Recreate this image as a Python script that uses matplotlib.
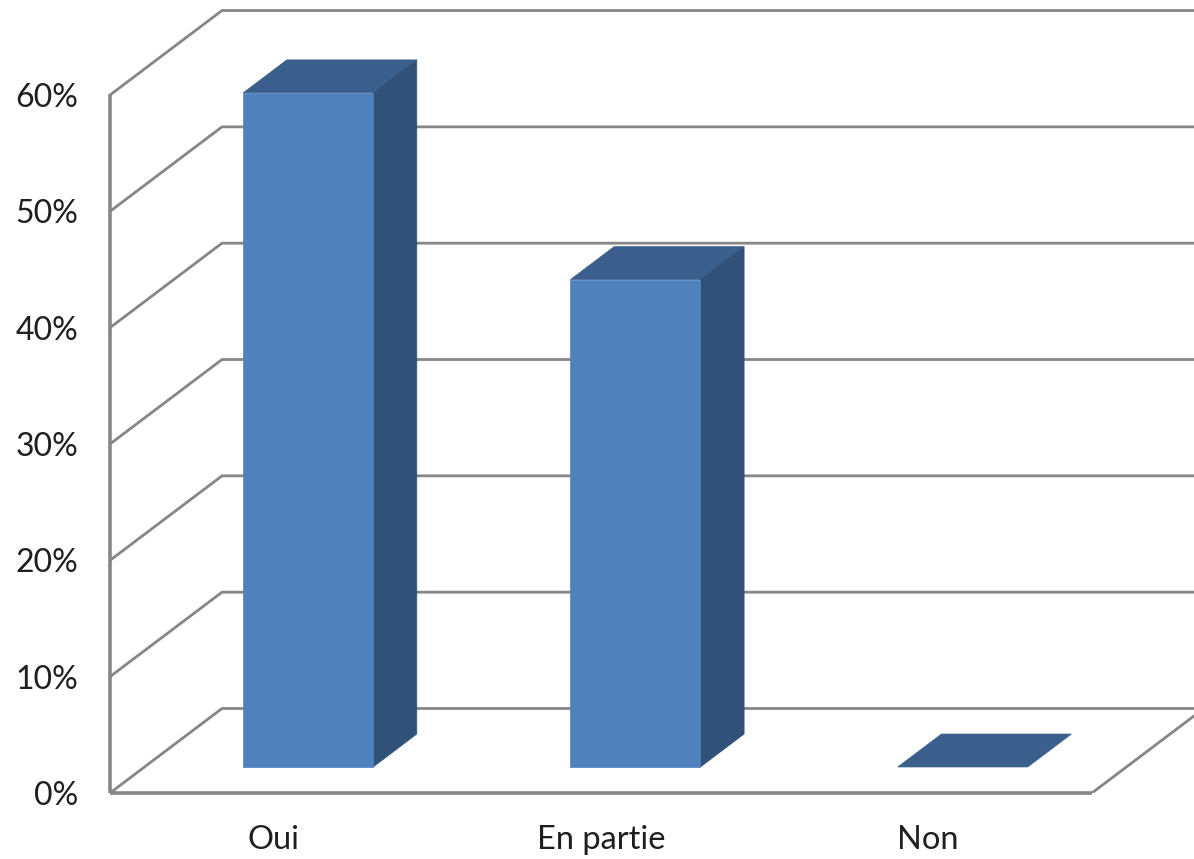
import numpy as np
import matplotlib
matplotlib.use("Agg")
import matplotlib.pyplot as plt

categories = ["Oui", "En partie", "Non"]
values = [57.95, 41.9, 0]
percent_ticks = [0, 10, 20, 30, 40, 50, 60]

# fake 3d: depth is a shear of the axes coordinates
depth_x = 112 / 327.3
depth_y = 84.5 / 11.633
bar_width = 0.397
bar_d0 = 0.308
bar_d1 = 0.698

grid_col = "#868686"
front_col = "#4F81BD"
top_col = "#3B5F8C"
side_col = "#315179"
text_col = "#1f1f1f"


def proj(u, v, d):
    return u + d * depth_x, v + d * depth_y


plt.rcParams["font.family"] = ["Lato", "DejaVu Sans"]
W, H = 1194, 859
fig = plt.figure(figsize=(W / 100, H / 100), dpi=100)
ax = fig.add_axes([110 / W, (H - 793) / H, (W - 110) / W, 793 / H])
ax.set_xlim(0, (W - 110) / 327.3)
ax.set_ylim(0, 793 / 11.633)
for s in ax.spines.values():
    s.set_visible(False)

# walls and floor
n = len(categories)
for t in percent_ticks:
    x0, y0 = proj(0, t, 0)
    x1, y1 = proj(0, t, 1)
    ax.plot([x0, x1, ax.get_xlim()[1] + 0.1], [y0, y1, y1], color=grid_col, lw=2.0,
            solid_joinstyle="miter", zorder=1, clip_on=t != 60)
ax.plot([0, 0], [0, 60], color=grid_col, lw=2.6, zorder=1.5, clip_on=False,
        solid_capstyle="butt")
ax.plot([0, n], [0, 0], color=grid_col, lw=2.6, zorder=1.5, clip_on=False,
        solid_capstyle="butt")
x1, y1 = proj(n, 0, 1)
ax.plot([n, x1], [0, y1], color=grid_col, lw=2.0, zorder=1.5)

# bars
for i, v in enumerate(values):
    l = i + 0.5 - bar_width / 2
    r = i + 0.5 + bar_width / 2
    top = [proj(l, v, bar_d0), proj(r, v, bar_d0), proj(r, v, bar_d1), proj(l, v, bar_d1)]
    ax.fill(*zip(*top), color=top_col, lw=0.5, zorder=3)
    if v > 0:
        front = [proj(l, 0, bar_d0), proj(r, 0, bar_d0), proj(r, v, bar_d0), proj(l, v, bar_d0)]
        side = [proj(r, 0, bar_d0), proj(r, 0, bar_d1), proj(r, v, bar_d1), proj(r, v, bar_d0)]
        ax.fill(*zip(*side), color=side_col, lw=0.5, zorder=3)
        ax.fill(*zip(*front), color=front_col, lw=0.5, zorder=4)

ax.set_yticks(percent_ticks)
ax.set_yticklabels([str(t) + "%" for t in percent_ticks])
ax.set_xticks(np.arange(n) + 0.5)
ax.set_xticklabels(categories)
ax.tick_params(axis="y", length=0, pad=23, labelsize=23, labelcolor=text_col)
ax.tick_params(axis="x", length=0, pad=23, labelsize=23.5, labelcolor=text_col)

fig.savefig("out.png", dpi=100)
